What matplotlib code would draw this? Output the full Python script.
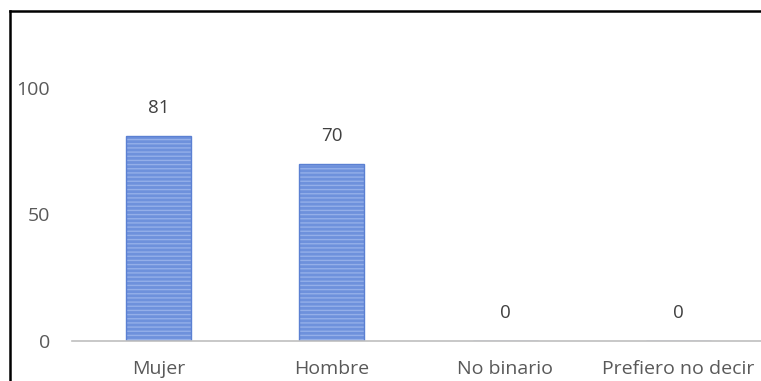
import matplotlib.pyplot as plt
from matplotlib.lines import Line2D

plt.rcParams['font.family'] = ['Open Sans', 'DejaVu Sans']

# datos
categorias = ['Mujer', 'Hombre', 'No binario', 'Prefiero no decir']
valores = [81, 70, 0, 0]
yticks = [0, 50, 100]

fig = plt.figure(figsize=(7.61, 3.81), dpi=100)
ax = fig.add_axes([0.0946, 0.105, 0.9106, 0.797])

x = range(len(categorias))
# relleno con rayas horizontales claras
ax.bar(x, valores, width=0.375, color='#6e91dc', hatch='----',
       edgecolor='#94afe9', linewidth=0)
# borde del rectangulo
ax.bar(x, valores, width=0.375, fill=False, edgecolor='#5b80d2', linewidth=1)

for xi, v in zip(x, valores):
    ax.annotate(str(v), (xi, v), xytext=(0, 20), textcoords='offset points',
                ha='center', va='center', fontsize=13.5, color='#404040')

ax.set_xlim(-0.5, len(categorias) - 0.5)
ax.set_ylim(0, 120)
ax.set_xticks(list(x))
ax.set_xticklabels(categorias, fontsize=14, color='#595959')
ax.set_yticks(yticks)
ax.set_yticklabels([str(t) for t in yticks], fontsize=14, color='#595959')
ax.tick_params(axis='both', length=0)
ax.tick_params(axis='y', pad=16)
ax.tick_params(axis='x', pad=14)

for s in ['top', 'right', 'left']:
    ax.spines[s].set_visible(False)
ax.spines['bottom'].set_color('#bfbfbf')
ax.spines['bottom'].set_linewidth(1.2)

# marco negro arriba e izquierda
fig.add_artist(Line2D([0.0125, 1], [0.9724, 0.9724], color='black', lw=1.8,
                      transform=fig.transFigure))
fig.add_artist(Line2D([0.0125, 0.0125], [0, 0.9724], color='black', lw=1.8,
                      transform=fig.transFigure))

fig.savefig('out.png', dpi=100)
